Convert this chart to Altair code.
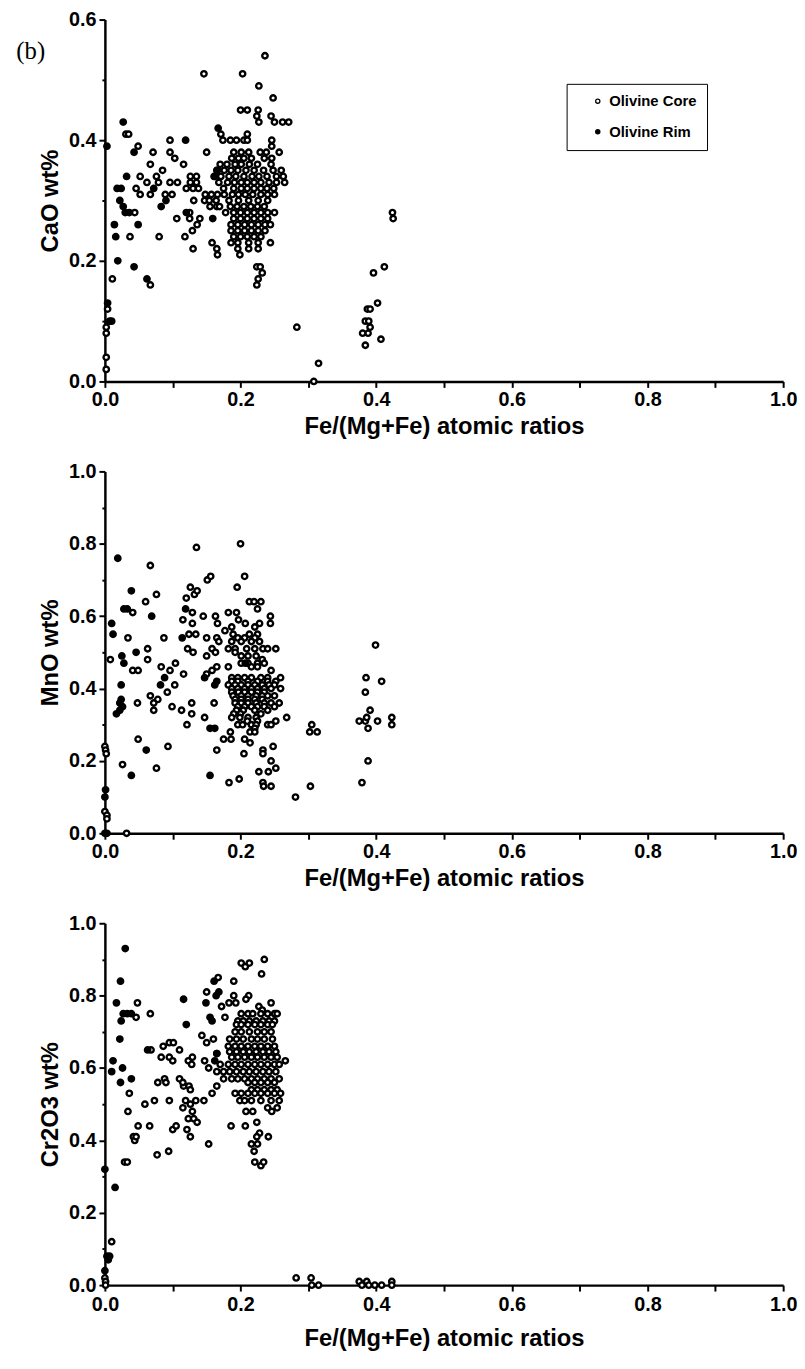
import altair as alt
import pandas as pd

# ---------------- data ----------------
types = ["Olivine Core", "Olivine Rim"]

# Panel 1: CaO wt%
cao_core = [
    (0.236, 0.54), (0.146, 0.51), (0.203, 0.51), (0.227, 0.49), (0.248, 0.47), (0.200, 0.45),
    (0.210, 0.45), (0.226, 0.45), (0.224, 0.44), (0.245, 0.44), (0.227, 0.43), (0.250, 0.43),
    (0.262, 0.43), (0.271, 0.43), (0.031, 0.41), (0.035, 0.41), (0.171, 0.41), (0.210, 0.41),
    (0.174, 0.40), (0.185, 0.40), (0.194, 0.40), (0.205, 0.40), (0.210, 0.40), (0.246, 0.40),
    (0.246, 0.39), (0.096, 0.40), (0.049, 0.39), (0.071, 0.38), (0.096, 0.38), (0.103, 0.37),
    (0.150, 0.38), (0.067, 0.36), (0.116, 0.36), (0.085, 0.35), (0.052, 0.34), (0.076, 0.34),
    (0.062, 0.33), (0.079, 0.33), (0.096, 0.33), (0.107, 0.33), (0.126, 0.34), (0.135, 0.34),
    (0.126, 0.33), (0.135, 0.33), (0.120, 0.32), (0.130, 0.32), (0.138, 0.32), (0.046, 0.32),
    (0.052, 0.31), (0.067, 0.31), (0.089, 0.31), (0.099, 0.31), (0.131, 0.30), (0.148, 0.31),
    (0.157, 0.31), (0.044, 0.28), (0.037, 0.24), (0.080, 0.24), (0.106, 0.27), (0.118, 0.24),
    (0.130, 0.22), (0.129, 0.25), (0.140, 0.27), (0.136, 0.26), (0.125, 0.28), (0.125, 0.27),
    (0.147, 0.30), (0.154, 0.30), (0.164, 0.30), (0.155, 0.29), (0.165, 0.29), (0.169, 0.29),
    (0.158, 0.23), (0.165, 0.22), (0.166, 0.21), (0.178, 0.28), (0.224, 0.19), (0.229, 0.19),
    (0.232, 0.18), (0.226, 0.17), (0.224, 0.16), (0.011, 0.17), (0.067, 0.16), (0.004, 0.12),
    (0.002, 0.09), (0.002, 0.08), (0.002, 0.04), (0.002, 0.02), (0.283, 0.09), (0.315, 0.03),
    (0.308, 0.00), (0.424, 0.28), (0.425, 0.27), (0.412, 0.19), (0.396, 0.18), (0.402, 0.13),
    (0.387, 0.12), (0.391, 0.12), (0.384, 0.10), (0.389, 0.10), (0.391, 0.09), (0.388, 0.08),
    (0.380, 0.08), (0.407, 0.07), (0.384, 0.06),
]
cao_core_rows = {
    0.38: [0.190, 0.201, 0.212, 0.229, 0.238, 0.257],
    0.37: [0.187, 0.197, 0.205, 0.216, 0.235, 0.246],
    0.36: [0.170, 0.180, 0.192, 0.201, 0.213, 0.225, 0.245],
    0.35: [0.166, 0.176, 0.186, 0.196, 0.208, 0.220, 0.234, 0.248, 0.260],
    0.34: [0.161, 0.171, 0.183, 0.193, 0.205, 0.217, 0.227, 0.239, 0.253, 0.263],
    0.33: [0.168, 0.181, 0.191, 0.201, 0.210, 0.220, 0.230, 0.242, 0.253, 0.265],
    0.32: [0.175, 0.190, 0.201, 0.210, 0.220, 0.230, 0.239, 0.249],
    0.31: [0.166, 0.176, 0.188, 0.197, 0.207, 0.218, 0.230, 0.240, 0.250],
    0.30: [0.183, 0.197, 0.212, 0.226, 0.240],
    0.29: [0.185, 0.195, 0.205, 0.215, 0.225, 0.235],
    0.28: [0.190, 0.200, 0.210, 0.220, 0.230, 0.240, 0.250],
    0.27: [0.190, 0.200, 0.210, 0.220, 0.230, 0.240],
    0.26: [0.186, 0.196, 0.206, 0.216, 0.226, 0.236, 0.244],
    0.25: [0.186, 0.196, 0.206, 0.216, 0.226, 0.236],
    0.24: [0.190, 0.200, 0.210, 0.220, 0.230],
    0.23: [0.186, 0.196, 0.212, 0.226, 0.244],
    0.22: [0.196, 0.212, 0.226],
    0.21: [0.199],
}
cao_rim = [
    (0.003, 0.39), (0.027, 0.43), (0.043, 0.38), (0.032, 0.34), (0.018, 0.32), (0.024, 0.32),
    (0.022, 0.30), (0.027, 0.29), (0.030, 0.28), (0.036, 0.28), (0.014, 0.26), (0.049, 0.26),
    (0.016, 0.24), (0.019, 0.20), (0.043, 0.19), (0.062, 0.17), (0.004, 0.13), (0.007, 0.10),
    (0.010, 0.10), (0.119, 0.40), (0.120, 0.28), (0.159, 0.27), (0.167, 0.42), (0.165, 0.35),
    (0.162, 0.34), (0.090, 0.30), (0.083, 0.29), (0.072, 0.32),
]

# Panel 2: MnO wt%
mno_core = [
    (0.200, 0.80), (0.135, 0.79), (0.067, 0.74), (0.151, 0.70), (0.156, 0.71), (0.206, 0.71),
    (0.195, 0.68), (0.126, 0.68), (0.132, 0.66), (0.136, 0.67), (0.120, 0.65), (0.076, 0.66),
    (0.060, 0.64), (0.041, 0.61), (0.129, 0.61), (0.145, 0.60), (0.034, 0.54), (0.087, 0.54),
    (0.115, 0.59), (0.129, 0.58), (0.124, 0.55), (0.134, 0.55), (0.122, 0.51), (0.130, 0.50),
    (0.063, 0.51), (0.063, 0.48), (0.008, 0.48), (0.083, 0.46), (0.096, 0.45), (0.104, 0.47),
    (0.041, 0.45), (0.049, 0.45), (0.116, 0.44),
    (0.268, 0.32), (0.252, 0.31), (0.240, 0.30), (0.245, 0.30), (0.248, 0.24), (0.233, 0.23),
    (0.233, 0.22), (0.245, 0.20), (0.252, 0.18), (0.241, 0.17), (0.227, 0.17), (0.233, 0.14),
    (0.234, 0.13), (0.245, 0.13), (0.205, 0.22), (0.198, 0.15), (0.183, 0.14), (0.165, 0.23),
    (0.175, 0.26), (0.186, 0.26), (0.185, 0.28), (0.214, 0.25), (0.206, 0.26), (0.147, 0.32),
    (0.161, 0.36), (0.121, 0.30), (0.128, 0.33), (0.128, 0.36), (0.113, 0.34), (0.099, 0.35),
    (0.067, 0.38), (0.078, 0.37), (0.072, 0.36), (0.072, 0.34), (0.092, 0.39), (0.103, 0.41),
    (0.048, 0.36), (0.049, 0.26), (0.093, 0.24), (0.026, 0.19), (0.076, 0.18),
    (0.385, 0.43), (0.408, 0.42), (0.399, 0.52), (0.384, 0.39), (0.391, 0.34), (0.375, 0.31),
    (0.384, 0.31), (0.386, 0.32), (0.388, 0.29), (0.402, 0.31), (0.423, 0.32), (0.423, 0.30),
    (0.388, 0.20), (0.379, 0.14), (0.305, 0.30), (0.302, 0.28), (0.313, 0.28), (0.303, 0.13),
    (0.281, 0.10), (0.000, 0.24), (0.001, 0.23), (0.002, 0.22), (0.000, 0.06), (0.003, 0.05),
    (0.003, 0.04), (0.032, 0.00),
    (0.213, 0.64), (0.220, 0.64), (0.230, 0.64), (0.225, 0.62), (0.182, 0.61), (0.194, 0.61),
    (0.163, 0.60), (0.244, 0.60), (0.166, 0.58), (0.197, 0.59), (0.207, 0.58), (0.228, 0.58),
    (0.244, 0.58), (0.187, 0.57), (0.221, 0.57), (0.177, 0.56), (0.189, 0.55), (0.213, 0.55),
    (0.225, 0.55), (0.150, 0.54), (0.165, 0.54), (0.196, 0.54), (0.206, 0.54), (0.221, 0.54),
    (0.168, 0.53), (0.187, 0.53), (0.201, 0.53), (0.216, 0.53), (0.228, 0.53), (0.158, 0.51),
    (0.182, 0.51), (0.192, 0.51), (0.209, 0.51), (0.221, 0.51), (0.233, 0.51), (0.240, 0.51),
    (0.252, 0.51), (0.150, 0.49), (0.163, 0.50), (0.192, 0.50), (0.201, 0.49), (0.211, 0.49),
    (0.223, 0.49), (0.232, 0.48), (0.201, 0.47), (0.211, 0.47), (0.225, 0.47), (0.235, 0.47),
    (0.165, 0.46), (0.182, 0.46), (0.216, 0.46), (0.225, 0.46), (0.245, 0.45), (0.150, 0.44),
    (0.158, 0.45),
]
mno_core_rows = {
    0.43: [0.187, 0.196, 0.206, 0.216, 0.230, 0.240, 0.259],
    0.42: [0.187, 0.196, 0.211, 0.225, 0.240, 0.252],
    0.41: [0.182, 0.192, 0.201, 0.211, 0.221, 0.232, 0.242, 0.250],
    0.40: [0.187, 0.196, 0.206, 0.216, 0.225, 0.235, 0.245, 0.259],
    0.39: [0.187, 0.197, 0.206, 0.216, 0.225, 0.235],
    0.38: [0.189, 0.201, 0.211, 0.223, 0.232, 0.240, 0.250],
    0.37: [0.192, 0.201, 0.211, 0.221, 0.232],
    0.36: [0.192, 0.201, 0.211, 0.223, 0.235, 0.245, 0.257],
    0.35: [0.196, 0.206, 0.216, 0.225, 0.235, 0.250],
    0.34: [0.194, 0.204, 0.221, 0.240],
    0.33: [0.190, 0.200, 0.230],
    0.32: [0.187, 0.199, 0.211, 0.223],
    0.31: [0.210, 0.225],
    0.30: [0.196, 0.203, 0.216, 0.223],
    0.29: [0.221],
    0.28: [0.214, 0.221],
}
mno_rim = [
    (0.019, 0.76), (0.039, 0.67), (0.028, 0.62), (0.033, 0.62), (0.119, 0.62), (0.069, 0.60),
    (0.010, 0.58), (0.012, 0.55), (0.114, 0.54), (0.025, 0.49), (0.028, 0.47), (0.046, 0.50),
    (0.024, 0.41), (0.017, 0.33), (0.022, 0.34), (0.026, 0.35), (0.022, 0.36), (0.024, 0.37),
    (0.082, 0.41), (0.088, 0.43), (0.061, 0.23), (0.039, 0.16), (0.155, 0.16), (0.155, 0.29),
    (0.162, 0.29), (0.001, 0.12), (0.000, 0.10), (0.003, 0.00), (0.000, 0.00), (0.147, 0.43),
    (0.162, 0.41), (0.165, 0.42), (0.207, 0.47),
]

# Panel 3: Cr2O3 wt%
cr_core = [
    (0.048, 0.78), (0.046, 0.74), (0.067, 0.75), (0.068, 0.65), (0.086, 0.66), (0.095, 0.67),
    (0.101, 0.67), (0.110, 0.65), (0.083, 0.63), (0.095, 0.63), (0.100, 0.62), (0.078, 0.56),
    (0.088, 0.57), (0.090, 0.56), (0.059, 0.50), (0.073, 0.51), (0.095, 0.51), (0.036, 0.53),
    (0.034, 0.48), (0.110, 0.57), (0.116, 0.55), (0.115, 0.56), (0.124, 0.55), (0.126, 0.54),
    (0.123, 0.62), (0.129, 0.63), (0.128, 0.61), (0.119, 0.51), (0.126, 0.50), (0.134, 0.51),
    (0.146, 0.51), (0.115, 0.49), (0.129, 0.48), (0.143, 0.69), (0.150, 0.67), (0.160, 0.68),
    (0.147, 0.62), (0.153, 0.60), (0.158, 0.53), (0.165, 0.55), (0.167, 0.85), (0.190, 0.84),
    (0.150, 0.81), (0.172, 0.77), (0.201, 0.89), (0.207, 0.88), (0.213, 0.89), (0.235, 0.90),
    (0.231, 0.86), (0.212, 0.80), (0.208, 0.79), (0.190, 0.80), (0.183, 0.78), (0.193, 0.78),
    (0.177, 0.74), (0.245, 0.78), (0.252, 0.75), (0.227, 0.77), (0.232, 0.76), (0.266, 0.62),
    (0.165, 0.64), (0.170, 0.61), (0.175, 0.57), (0.165, 0.59),
    (0.049, 0.44), (0.066, 0.44), (0.042, 0.41), (0.044, 0.40), (0.046, 0.41), (0.029, 0.34),
    (0.033, 0.34), (0.077, 0.36), (0.094, 0.37), (0.100, 0.43), (0.105, 0.44), (0.121, 0.43),
    (0.123, 0.46), (0.126, 0.41), (0.131, 0.46), (0.136, 0.45), (0.153, 0.39), (0.186, 0.44),
    (0.207, 0.44), (0.224, 0.45), (0.216, 0.39), (0.220, 0.37), (0.225, 0.39), (0.228, 0.42),
    (0.241, 0.41), (0.224, 0.41), (0.221, 0.34), (0.230, 0.33), (0.234, 0.34), (0.208, 0.48),
    (0.218, 0.48), (0.246, 0.48), (0.010, 0.12), (0.000, 0.02), (0.001, 0.01), (0.001, 0.00),
    (0.282, 0.02), (0.304, 0.02), (0.305, 0.00), (0.315, 0.00), (0.375, 0.01), (0.379, 0.00),
    (0.386, 0.01), (0.389, 0.00), (0.398, 0.00), (0.408, 0.00), (0.423, 0.01), (0.423, 0.00),
]
cr_core_rows = {
    0.75: [0.201, 0.211, 0.218, 0.230, 0.240, 0.250, 0.254],
    0.73: [0.196, 0.204, 0.213, 0.223, 0.233, 0.242, 0.250],
    0.72: [0.194, 0.201, 0.211, 0.221, 0.230, 0.240, 0.247],
    0.70: [0.192, 0.201, 0.213, 0.225, 0.235, 0.245],
    0.68: [0.184, 0.194, 0.204, 0.216, 0.225, 0.235, 0.247],
    0.66: [0.182, 0.192, 0.201, 0.211, 0.221, 0.230, 0.240, 0.250],
    0.645: [0.184, 0.194, 0.204, 0.213, 0.223, 0.233, 0.242, 0.252],
    0.63: [0.187, 0.196, 0.206, 0.216, 0.225, 0.235, 0.245, 0.254],
    0.61: [0.182, 0.192, 0.201, 0.211, 0.221, 0.230, 0.240, 0.250, 0.257],
    0.59: [0.175, 0.184, 0.194, 0.204, 0.213, 0.223, 0.233, 0.242, 0.252],
    0.57: [0.187, 0.196, 0.206, 0.216, 0.225, 0.235, 0.245, 0.257],
    0.56: [0.211, 0.221, 0.230, 0.240, 0.250],
    0.54: [0.216, 0.225, 0.235, 0.245, 0.254],
    0.53: [0.192, 0.201, 0.211, 0.221, 0.230, 0.240, 0.250, 0.259],
    0.51: [0.199, 0.206, 0.216, 0.230, 0.245, 0.257],
    0.49: [0.240, 0.254],
}
cr_rim = [
    (0.030, 0.93), (0.023, 0.84), (0.017, 0.78), (0.024, 0.73), (0.027, 0.75), (0.033, 0.75),
    (0.039, 0.75), (0.116, 0.79), (0.120, 0.72), (0.022, 0.68), (0.012, 0.62), (0.010, 0.59),
    (0.026, 0.60), (0.023, 0.56), (0.039, 0.57), (0.063, 0.65), (0.161, 0.84), (0.164, 0.80),
    (0.168, 0.81), (0.149, 0.78), (0.155, 0.74), (0.158, 0.73), (0.162, 0.62), (0.165, 0.64),
    (0.000, 0.32), (0.015, 0.27), (0.003, 0.08), (0.005, 0.07), (0.007, 0.08), (0.000, 0.04),
]

x_ticks = [0.0, 0.1, 0.2, 0.3, 0.4, 0.5, 0.6, 0.7, 0.8, 0.9, 1.0]
y_ticks_cao = [0.0, 0.1, 0.2, 0.3, 0.4, 0.5, 0.6]
y_ticks_other = x_ticks
x_title = "Fe/(Mg+Fe) atomic ratios"


def build_df(core, rows, rim):
    recs = [{"x": a, "y": b, "type": types[0]} for a, b in core]
    for yv, xs in rows.items():
        recs += [{"x": a, "y": yv, "type": types[0]} for a in xs]
    recs += [{"x": a, "y": b, "type": types[1]} for a, b in rim]
    return pd.DataFrame(recs)


W, H = 686, 366
FONT = "Liberation Sans"
label_expr = "round(datum.value*10) % 2 == 0 ? format(datum.value, '.1f') : ''"


def panel(df, ytitle, ymax, yticks, show_legend, xtitle_pad=6, xlabel_pad=2):
    xaxis = alt.Axis(values=x_ticks, labelExpr=label_expr, title=x_title,
                     titleFontSize=24, titleFontWeight="bold", titleFont=FONT,
                     titlePadding=xtitle_pad, tickSize=6, labelPadding=xlabel_pad,
                     labelFlush=False)
    yaxis = alt.Axis(values=yticks, labelExpr=label_expr, title=ytitle,
                     titleFontSize=24, titleFontWeight="bold", titleFont=FONT,
                     titlePadding=6, labelPadding=3, labelFlush=False,
                     tickSize={"condition": {"test": "round(datum.value*10) % 2 == 1", "value": 3},
                               "value": 6})
    if show_legend:
        legend = alt.Legend(title=None, orient="none", legendX=467, legendY=65,
                            padding=10, rowPadding=15, strokeColor="black",
                            fillColor="white", symbolType="circle", symbolSize=18,
                            symbolStrokeColor="black", symbolStrokeWidth=1.3,
                            symbolOffset=14, labelFont=FONT, labelFontSize=15,
                            labelFontWeight="bold", labelColor="black", labelOffset=4)
    else:
        legend = None
    return alt.Chart(df).mark_point(filled=True, shape="circle", size=30, stroke="black",
                                    strokeWidth=2.4, opacity=1).encode(
        x=alt.X("x:Q", scale=alt.Scale(domain=[0, 1], nice=False), axis=xaxis),
        y=alt.Y("y:Q", scale=alt.Scale(domain=[0, ymax], nice=False), axis=yaxis),
        fill=alt.Fill("type:N", scale=alt.Scale(domain=types, range=["white", "black"]),
                      legend=legend),
    ).properties(width=W, height=H)


p1 = panel(build_df(cao_core, cao_core_rows, cao_rim), "CaO wt%", 0.6, y_ticks_cao, True)
label_b = alt.Chart(pd.DataFrame({"t": ["(b)"]})).mark_text(
    font="Liberation Serif", fontSize=25, color="black", align="center", baseline="middle"
).encode(text="t:N", x=alt.value(-75), y=alt.value(32))
p1 = alt.layer(p1, label_b)

p2 = panel(build_df(mno_core, mno_core_rows, mno_rim), "MnO wt%", 1.0, y_ticks_other, False)
p3 = panel(build_df(cr_core, cr_core_rows, cr_rim), "Cr2O3 wt%", 1.0, y_ticks_other, False,
           xtitle_pad=12, xlabel_pad=4)

chart = alt.vconcat(p1, p2, p3, spacing=91, bounds="flush").resolve_scale(
    fill="independent").resolve_legend(fill="independent").configure_view(
    stroke=None).configure_axis(
    grid=False, domainColor="black", domainWidth=2.5, tickColor="black", tickWidth=2,
    labelFont=FONT, labelFontSize=20, labelFontWeight="bold", labelColor="black",
    titleColor="black").properties(
    padding={"left": 8, "top": -6, "right": 0, "bottom": 0}, background="white")

chart.save("out.html", embed_options={"renderer": "svg", "actions": False})
